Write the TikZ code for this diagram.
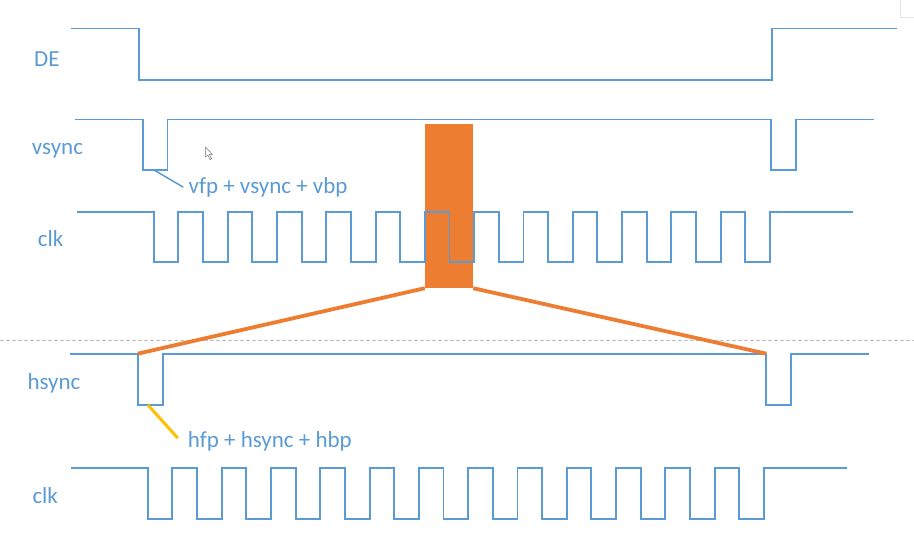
\documentclass[tikz,border=0pt]{standalone}
\usepackage{fontspec}
\setmainfont{Carlito}
\usetikzlibrary{positioning}
\definecolor{wave}{HTML}{5B9BD5}
\definecolor{zoomfill}{HTML}{ED7D31}
\definecolor{note}{HTML}{FFC000}

\begin{document}
\begin{tikzpicture}[x=1pt,y=-1pt,every node/.style={font=\fontsize{23}{27}\selectfont,text=wave,inner sep=0pt},
  sig/.style={draw=wave,line width=1.9pt},zoomline/.style={draw=zoomfill,line width=3.8pt}]
\useasboundingbox (0,0) rectangle (914,545);
\draw[black!10,fill=white] (900,-1) rectangle (915,17);
% signal names
\node[anchor=base west](de) at (34,67){DE};\node[anchor=base west](vs) at (31.7,155){vsync};\node[anchor=base west](clka) at (37.7,246.7){clk};
\node[anchor=base west](hs) at (27.3,389.3){hsync};\node[anchor=base west](clkb) at (32.3,503.3){clk};
% zoomed slot
\node[fill=zoomfill,minimum width=48pt,minimum height=164pt](zoom) at (449,206){};
\draw[black!25,dash pattern=on 4pt off 2pt,line width=.7pt] (0,340.5) -- (914,340.5);
% frame
\draw[sig] (71,28.5) -- (139,28.5) -- (139,80) -- (772,80) -- (772,28.5) -- (897,28.5);
\coordinate (vlow) at (154,170);
\draw[sig] (75,119.5) -- (143,119.5) -- (143,170) -- (167.5,170) -- (167.5,119.5) -- (771,119.5) -- (771,170) -- (796,170) -- (796,119.5) -- (874,119.5);
\draw[sig] (77,212) -- (153.7,212) \foreach \i in {1,...,13}{ -- ++(0,50) -- ++(24.65,0) -- ++(0,-50) -- ++(24.65,0)} -- (853,212);
\node[anchor=base west](vnote) at (188.3,193.3){vfp + vsync + vbp};
\draw[draw=wave,line width=1.5pt] (vlow) -- ([shift={(-5,0)}]vnote.west);
% line
\coordinate (hl) at (137.7,353.7);\coordinate (hr) at (766.3,353.7);\coordinate (hlow) at (148,405);
\draw[sig] (70,353.7) -- (hl) -- (137.7,404.7) -- (162.7,404.7) -- (162.7,353.7) -- (hr) -- (766.3,404.7) -- (791,404.7) -- (791,353.7) -- (869,353.7);
\draw[sig] (71,468) -- (147.7,468) \foreach \i in {1,...,13}{ -- ++(0,51.3) -- ++(24.65,0) -- ++(0,-51.3) -- ++(24.65,0)} -- (846.7,468);
\draw[zoomline] (zoom.south west) -- (hl);\draw[zoomline] (zoom.south east) -- (hr);
\node[anchor=base west](hnote) at (187.7,447.7){hfp + hsync + hbp};
\draw[draw=note,line width=3pt] (hlow) -- ([shift={(-10,-3.5)}]hnote.west);
% pointer
\draw[black!55,fill=white,line width=.5pt] (205.5,147) -- (205.5,157) -- (208,155) -- (210,159.5) -- (211.5,158.8) -- (209.5,154.5) -- (212.5,154.5) -- cycle;
\end{tikzpicture}
\end{document}
